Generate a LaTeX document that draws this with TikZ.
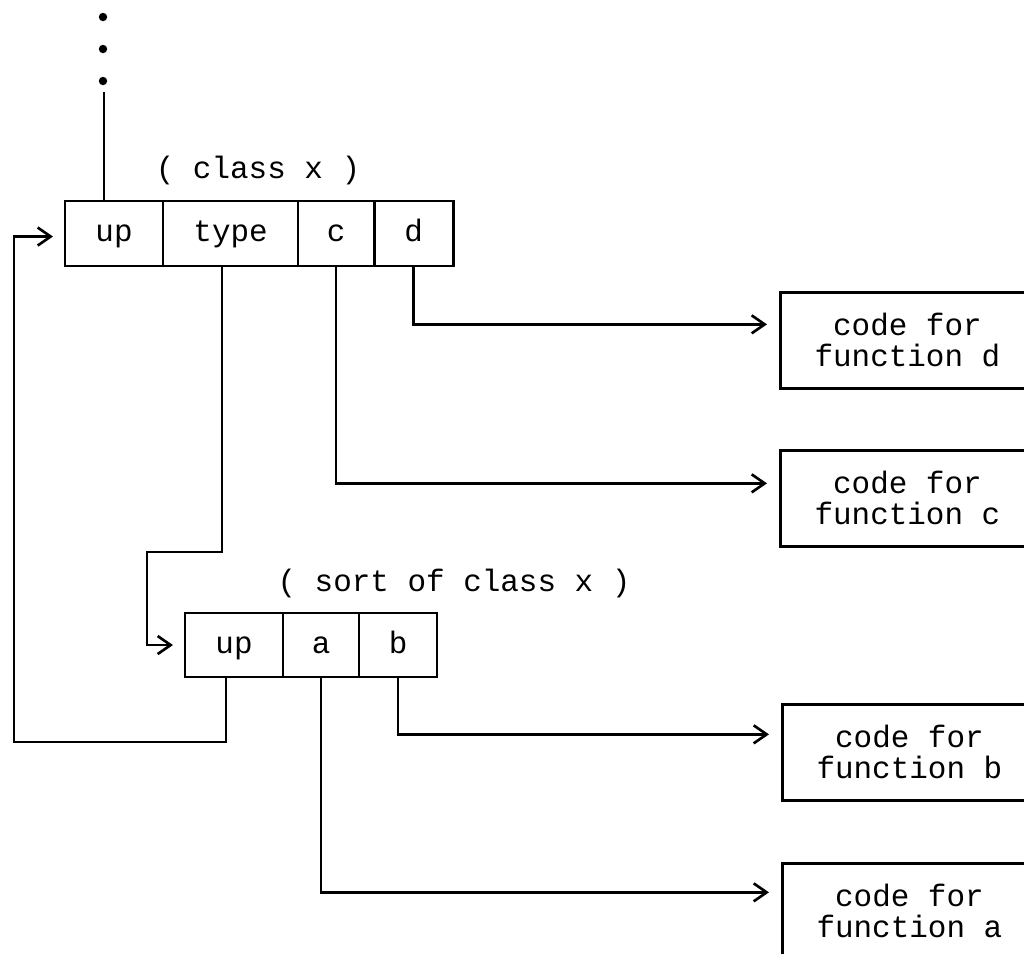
\documentclass[tikz,border=0pt]{standalone}
\usepackage{fontspec}
\setmonofont{Liberation Mono}
\usetikzlibrary{arrows.meta, positioning}
\newcommand{\recfont}{\ttfamily\fontsize{8.8}{8.8}\selectfont}

\begin{document}
\begin{tikzpicture}[x=0.01cm, y=-0.01cm, line width=0.75pt,
      cell/.style={draw, inner sep=0pt, outer sep=0pt, text height=1.55ex,
         text depth=0.45ex, minimum height=0.65cm, font=\recfont},
      codebox/.style={draw, align=center, inner sep=0pt,
         minimum width=2.54cm, minimum height=0.96cm, font=\recfont},
      ptr/.style={-{Straight Barb[length=0.13cm, width=0.18cm]}, shorten >=0.12cm}]
   \useasboundingbox (0,0) rectangle (1024,953);
   \clip (0,0) rectangle (1024,953);
   % Record of class x
   \node[font=\recfont] (xname) at (258,170) {( class x )};
   \node[cell, minimum width=0.98cm, anchor=north west] (xup) at (65,201) {up};
   \node[cell, minimum width=1.35cm, right=0pt of xup] (xtype) {type};
   \node[cell, minimum width=0.76cm, right=0pt of xtype] (xc) {c};
   \node[cell, minimum width=0.79cm, right=0pt of xc] (xd) {d};
   % Record of sort of class x
   \node[font=\recfont] (sname) at (454,583) {( sort of class x )};
   \node[cell, minimum width=0.98cm, minimum height=0.64cm, anchor=north west] (sup) at (185,613) {up};
   \node[cell, minimum width=0.76cm, minimum height=0.64cm, right=0pt of sup] (sa) {a};
   \node[cell, minimum width=0.78cm, minimum height=0.64cm, right=0pt of sa] (sb) {b};
   % Code blocks
   \node[codebox, anchor=north west] (fd) at (779,291) {code for\\function d};
   \node[codebox, anchor=north west] (fc) at (779,449) {code for\\function c};
   \node[codebox, anchor=north west] (fb) at (781,703) {code for\\function b};
   \node[codebox, anchor=north west] (fa) at (781,862) {code for\\function a};
   % Dots above the up field
   \foreach \y in {17,49,81} \fill (103,\y) circle (0.042cm);
   \coordinate (dotsend) at (104,92);
   \draw (dotsend) -- (dotsend |- xup.north);
   % Pointers
   \coordinate (tbend) at (147,552);
   \coordinate (ubend) at (14,742);
   \draw[ptr] ([xshift=-0.085cm]xtype.south) |- (tbend) |- (sup.west);
   \draw[ptr] ([xshift=-0.08cm]sup.south) |- (ubend) |- ([yshift=-0.03cm]xup.west);
   \draw[ptr] (xd.south) |- ([yshift=0.16cm]fd.west);
   \draw[ptr] (xc.south) |- ([yshift=0.15cm]fc.west);
   \draw[ptr] (sb.south) |- ([yshift=0.18cm]fb.west);
   \draw[ptr] (sa.south) |- ([yshift=0.19cm]fa.west);
\end{tikzpicture}
\end{document}
